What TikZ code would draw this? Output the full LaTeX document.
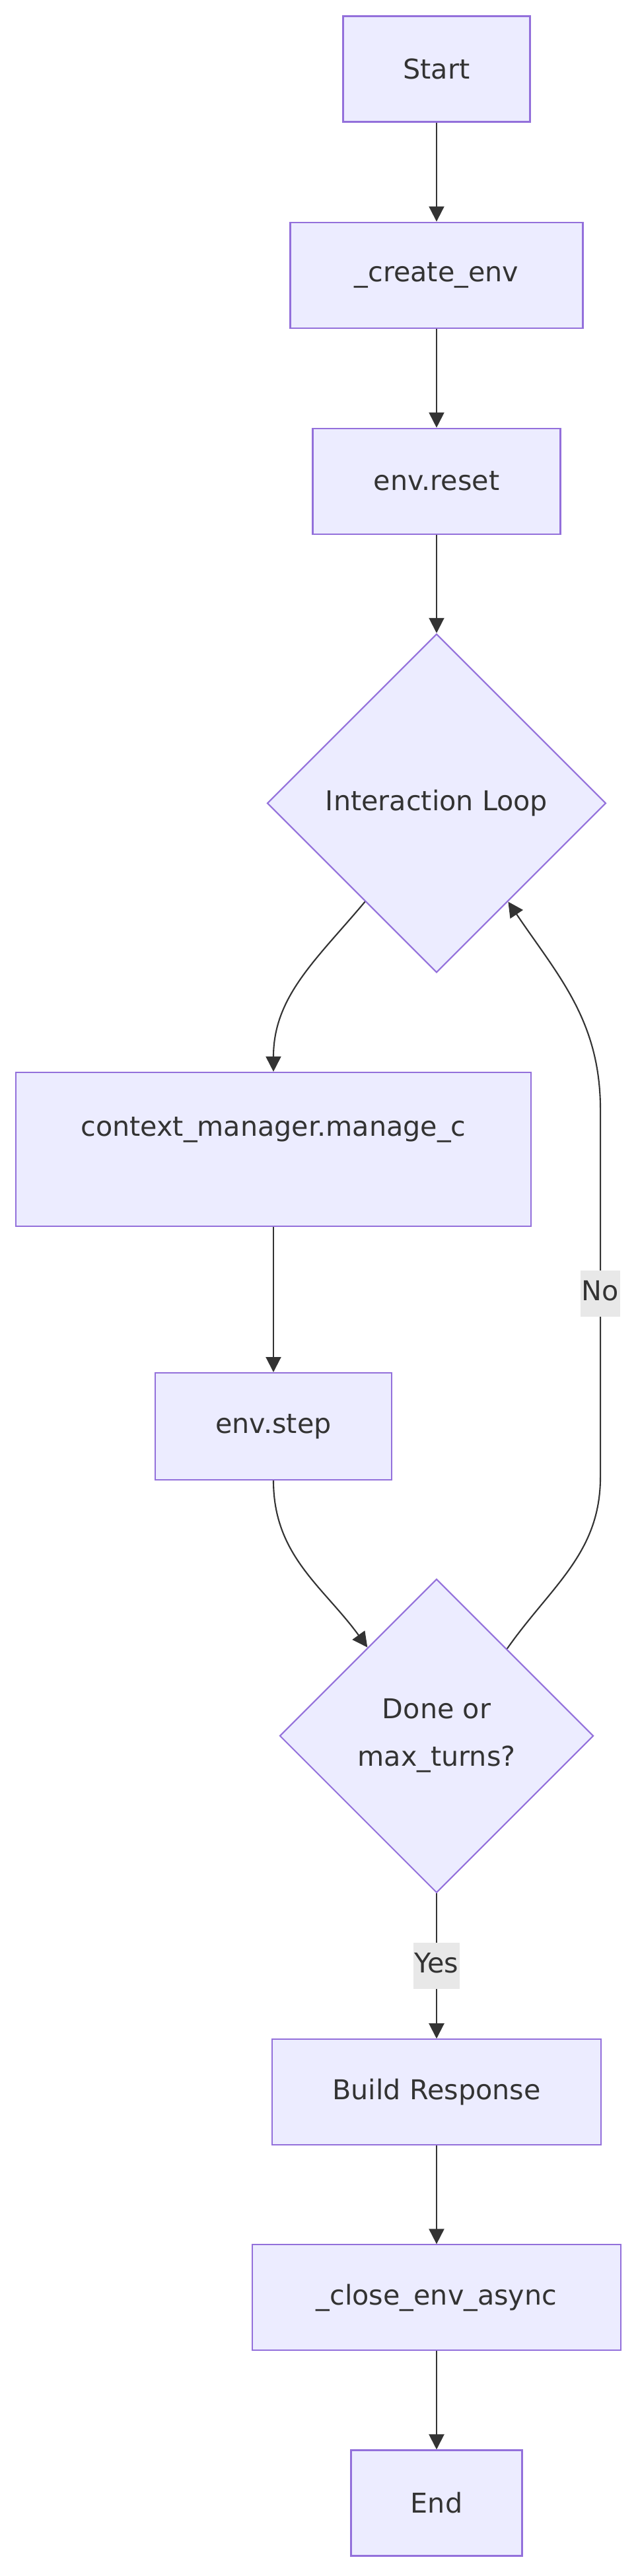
\documentclass[tikz,border=0pt]{standalone}
\usepackage{fontspec}
\setmainfont{DejaVu Sans}
\usepackage{tikz}
\usetikzlibrary{arrows.meta,positioning,shapes.geometric,calc}

\definecolor{nodefill}{HTML}{ECECFF}
\definecolor{nodeline}{HTML}{9370DB}
\definecolor{edgeline}{HTML}{333333}
\definecolor{labelfill}{HTML}{E8E8E8}

\begin{document}
\begin{tikzpicture}[->,>={Triangle[length=0.46cm,width=0.46cm]},line width=1.2pt,color=edgeline,
      font=\fontsize{23.5}{41}\selectfont,
      box node/.style={rectangle,draw=nodeline,fill=nodefill,minimum height=3.2cm,inner xsep=0.5cm},
      test node/.style={diamond,aspect=1,draw=nodeline,fill=nodefill,inner sep=0pt,align=center},
      answer/.style={fill=labelfill,inner xsep=1pt,inner ysep=0.29cm,text height=0.62cm,text depth=0.2cm}]
      \useasboundingbox (0,0) rectangle (19.3,-78.02);

      \node[box node,minimum width=5.66cm] (start) at (13.22,-2.09) {Start};
      \node[box node,minimum width=8.86cm] (create) [below=3cm of start] {\_create\_env};
      \node[box node,minimum width=7.5cm] (reset) [below=3cm of create] {env.reset};
      \node[test node,minimum size=10.26cm] (loop) [below=2.98cm of reset] {Interaction Loop};
      \node[box node,minimum width=15.6cm,minimum height=4.66cm,text height=0.62cm,text depth=1.42cm]
        (manage) [below=2.98cm of loop,xshift=-4.94cm] {context\_manager.manage\_c};
      \node[box node,minimum width=7.16cm,minimum height=3.24cm] (envstep) [below=4.4cm of manage] {env.step};
      \node[test node,minimum size=9.5cm] (done) [below=2.96cm of envstep,xshift=4.94cm] {Done or\\max\_turns?};
      \node[box node,minimum width=9.96cm] (build) [below=4.4cm of done] {Build Response};
      \node[box node,minimum width=11.16cm] (close) [below=2.98cm of build] {\_close\_env\_async};
      \node[box node,minimum width=5.18cm] (end) [below=2.98cm of close] {End};

      \coordinate (nolow) at ($(loop.east |- done.north)+(-0.19,3.07)$);
      \coordinate (nohigh) at ($(loop.east |- loop.south)+(-0.19,-4.13)$);

      \path[->]
        (start) edge (create)
        (create) edge (reset)
        (reset) edge (loop)
        (loop.234) edge [out=230,in=90] (manage)
        (manage) edge (envstep)
        (envstep) edge [out=-90,in=126] (done.128)
        (done) edge node[answer] {Yes} (build)
        (build) edge (close)
        (close) edge (end);

      \draw (done.51) to[out=55,in=-90] (nolow) -- node[answer] {No} (nohigh) to[out=90,in=-56] (loop.-54);
    \end{tikzpicture}
\end{document}
